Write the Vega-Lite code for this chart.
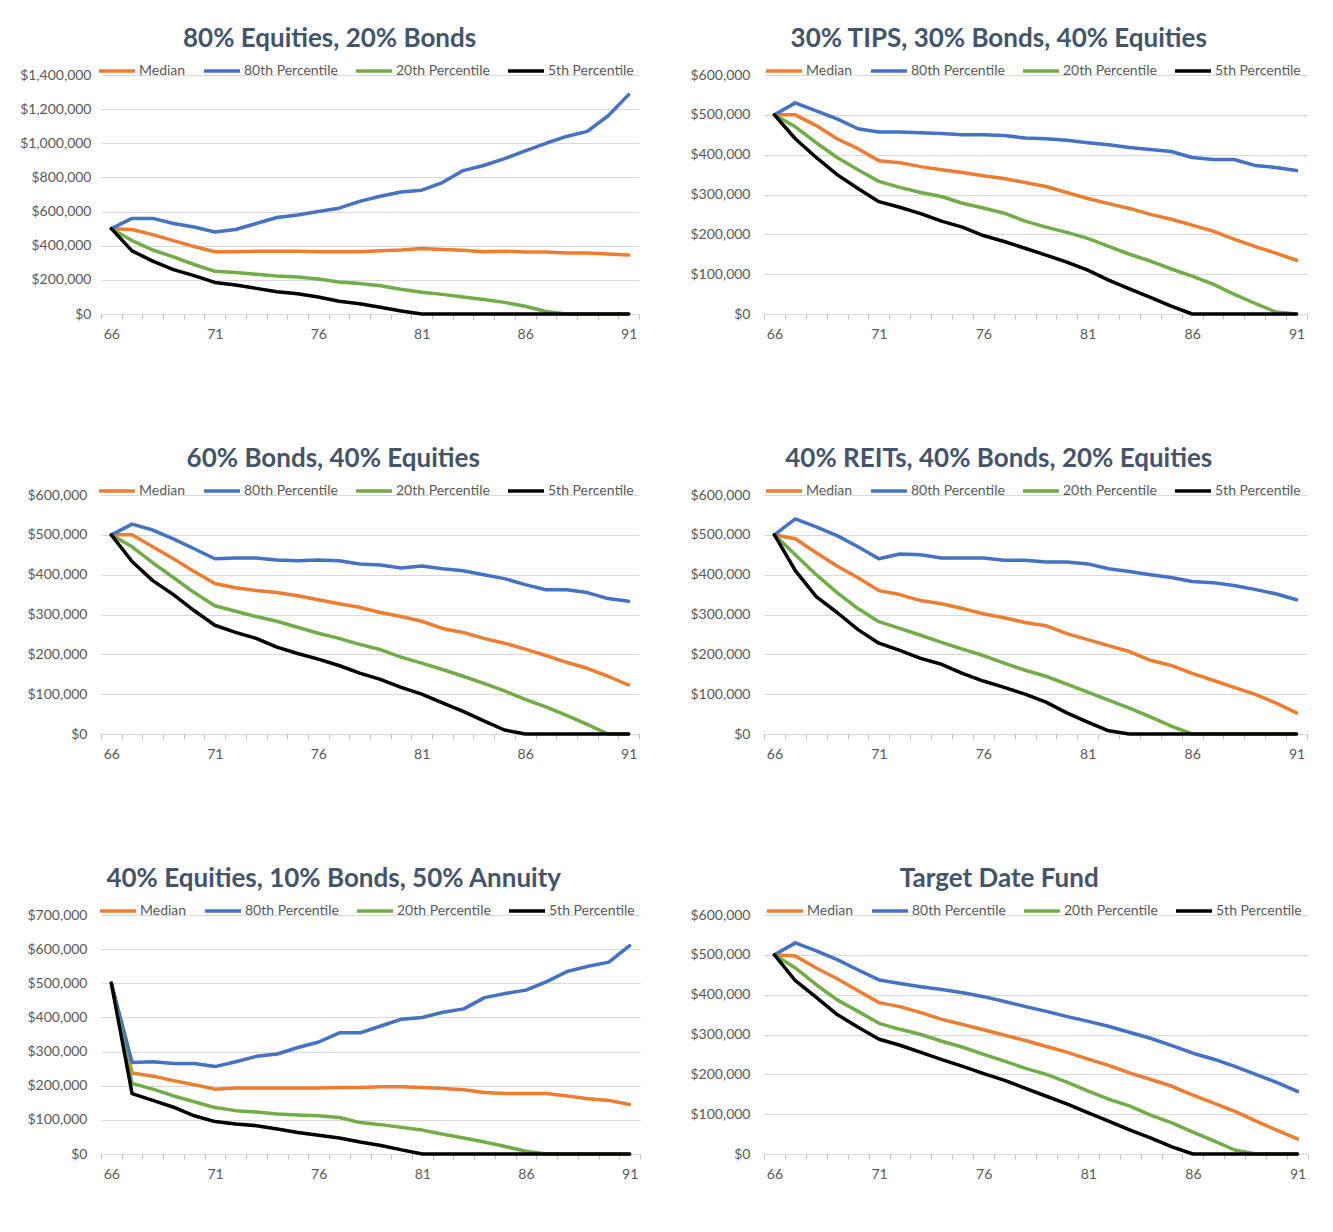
{
"$schema": "https://vega.github.io/schema/vega-lite/v6.json",
"padding": {"left": 19, "top": 26, "right": 5, "bottom": 5},
"background": "white",
"columns": 2,
"align": "none",
"spacing": {"row": 105, "column": 48},
"datasets": {
"p1": [
{"Age":66,"Median":500000,"80th Percentile":500000,"20th Percentile":500000,"5th Percentile":500000},
{"Age":67,"Median":495000,"80th Percentile":560000,"20th Percentile":430000,"5th Percentile":370000},
{"Age":68,"Median":465000,"80th Percentile":560000,"20th Percentile":375000,"5th Percentile":310000},
{"Age":69,"Median":430000,"80th Percentile":530000,"20th Percentile":335000,"5th Percentile":260000},
{"Age":70,"Median":395000,"80th Percentile":510000,"20th Percentile":290000,"5th Percentile":225000},
{"Age":71,"Median":365000,"80th Percentile":480000,"20th Percentile":250000,"5th Percentile":185000},
{"Age":72,"Median":365000,"80th Percentile":495000,"20th Percentile":243000,"5th Percentile":170000},
{"Age":73,"Median":368000,"80th Percentile":530000,"20th Percentile":233000,"5th Percentile":150000},
{"Age":74,"Median":368000,"80th Percentile":565000,"20th Percentile":222000,"5th Percentile":130000},
{"Age":75,"Median":368000,"80th Percentile":580000,"20th Percentile":217000,"5th Percentile":118000},
{"Age":76,"Median":365000,"80th Percentile":600000,"20th Percentile":205000,"5th Percentile":100000},
{"Age":77,"Median":365000,"80th Percentile":620000,"20th Percentile":188000,"5th Percentile":75000},
{"Age":78,"Median":365000,"80th Percentile":660000,"20th Percentile":178000,"5th Percentile":60000},
{"Age":79,"Median":370000,"80th Percentile":690000,"20th Percentile":165000,"5th Percentile":40000},
{"Age":80,"Median":375000,"80th Percentile":715000,"20th Percentile":145000,"5th Percentile":18000},
{"Age":81,"Median":383000,"80th Percentile":725000,"20th Percentile":128000,"5th Percentile":0},
{"Age":82,"Median":378000,"80th Percentile":770000,"20th Percentile":115000,"5th Percentile":0},
{"Age":83,"Median":373000,"80th Percentile":840000,"20th Percentile":100000,"5th Percentile":0},
{"Age":84,"Median":365000,"80th Percentile":870000,"20th Percentile":85000,"5th Percentile":0},
{"Age":85,"Median":368000,"80th Percentile":910000,"20th Percentile":68000,"5th Percentile":0},
{"Age":86,"Median":363000,"80th Percentile":955000,"20th Percentile":45000,"5th Percentile":0},
{"Age":87,"Median":363000,"80th Percentile":1000000,"20th Percentile":15000,"5th Percentile":0},
{"Age":88,"Median":358000,"80th Percentile":1040000,"20th Percentile":0,"5th Percentile":0},
{"Age":89,"Median":358000,"80th Percentile":1070000,"20th Percentile":0,"5th Percentile":0},
{"Age":90,"Median":352000,"80th Percentile":1160000,"20th Percentile":0,"5th Percentile":0},
{"Age":91,"Median":345000,"80th Percentile":1285000,"20th Percentile":0,"5th Percentile":0}
],
"p2": [
{"Age":66,"Median":500000,"80th Percentile":500000,"20th Percentile":500000,"5th Percentile":500000},
{"Age":67,"Median":500000,"80th Percentile":530000,"20th Percentile":470000,"5th Percentile":440000},
{"Age":68,"Median":473000,"80th Percentile":510000,"20th Percentile":430000,"5th Percentile":393000},
{"Age":69,"Median":440000,"80th Percentile":490000,"20th Percentile":393000,"5th Percentile":350000},
{"Age":70,"Median":415000,"80th Percentile":465000,"20th Percentile":362000,"5th Percentile":315000},
{"Age":71,"Median":385000,"80th Percentile":457000,"20th Percentile":333000,"5th Percentile":282000},
{"Age":72,"Median":380000,"80th Percentile":457000,"20th Percentile":318000,"5th Percentile":268000},
{"Age":73,"Median":370000,"80th Percentile":455000,"20th Percentile":305000,"5th Percentile":252000},
{"Age":74,"Median":362000,"80th Percentile":453000,"20th Percentile":295000,"5th Percentile":233000},
{"Age":75,"Median":355000,"80th Percentile":450000,"20th Percentile":278000,"5th Percentile":218000},
{"Age":76,"Median":347000,"80th Percentile":450000,"20th Percentile":266000,"5th Percentile":197000},
{"Age":77,"Median":340000,"80th Percentile":448000,"20th Percentile":253000,"5th Percentile":182000},
{"Age":78,"Median":330000,"80th Percentile":442000,"20th Percentile":233000,"5th Percentile":165000},
{"Age":79,"Median":320000,"80th Percentile":440000,"20th Percentile":218000,"5th Percentile":148000},
{"Age":80,"Median":305000,"80th Percentile":436000,"20th Percentile":205000,"5th Percentile":130000},
{"Age":81,"Median":290000,"80th Percentile":430000,"20th Percentile":190000,"5th Percentile":110000},
{"Age":82,"Median":277000,"80th Percentile":425000,"20th Percentile":170000,"5th Percentile":85000},
{"Age":83,"Median":265000,"80th Percentile":418000,"20th Percentile":150000,"5th Percentile":63000},
{"Age":84,"Median":250000,"80th Percentile":413000,"20th Percentile":133000,"5th Percentile":42000},
{"Age":85,"Median":238000,"80th Percentile":408000,"20th Percentile":113000,"5th Percentile":20000},
{"Age":86,"Median":223000,"80th Percentile":393000,"20th Percentile":95000,"5th Percentile":0},
{"Age":87,"Median":208000,"80th Percentile":388000,"20th Percentile":75000,"5th Percentile":0},
{"Age":88,"Median":188000,"80th Percentile":388000,"20th Percentile":50000,"5th Percentile":0},
{"Age":89,"Median":170000,"80th Percentile":373000,"20th Percentile":27000,"5th Percentile":0},
{"Age":90,"Median":153000,"80th Percentile":368000,"20th Percentile":5000,"5th Percentile":0},
{"Age":91,"Median":135000,"80th Percentile":360000,"20th Percentile":0,"5th Percentile":0}
],
"p3": [
{"Age":66,"Median":500000,"80th Percentile":500000,"20th Percentile":500000,"5th Percentile":500000},
{"Age":67,"Median":500000,"80th Percentile":527000,"20th Percentile":470000,"5th Percentile":433000},
{"Age":68,"Median":470000,"80th Percentile":512000,"20th Percentile":430000,"5th Percentile":385000},
{"Age":69,"Median":440000,"80th Percentile":490000,"20th Percentile":393000,"5th Percentile":350000},
{"Age":70,"Median":408000,"80th Percentile":465000,"20th Percentile":355000,"5th Percentile":310000},
{"Age":71,"Median":378000,"80th Percentile":440000,"20th Percentile":322000,"5th Percentile":273000},
{"Age":72,"Median":367000,"80th Percentile":442000,"20th Percentile":308000,"5th Percentile":255000},
{"Age":73,"Median":360000,"80th Percentile":442000,"20th Percentile":295000,"5th Percentile":240000},
{"Age":74,"Median":355000,"80th Percentile":437000,"20th Percentile":283000,"5th Percentile":218000},
{"Age":75,"Median":347000,"80th Percentile":435000,"20th Percentile":268000,"5th Percentile":202000},
{"Age":76,"Median":337000,"80th Percentile":437000,"20th Percentile":253000,"5th Percentile":188000},
{"Age":77,"Median":327000,"80th Percentile":435000,"20th Percentile":240000,"5th Percentile":172000},
{"Age":78,"Median":318000,"80th Percentile":427000,"20th Percentile":225000,"5th Percentile":153000},
{"Age":79,"Median":305000,"80th Percentile":424000,"20th Percentile":212000,"5th Percentile":137000},
{"Age":80,"Median":295000,"80th Percentile":417000,"20th Percentile":193000,"5th Percentile":117000},
{"Age":81,"Median":283000,"80th Percentile":422000,"20th Percentile":178000,"5th Percentile":100000},
{"Age":82,"Median":265000,"80th Percentile":415000,"20th Percentile":162000,"5th Percentile":78000},
{"Age":83,"Median":255000,"80th Percentile":410000,"20th Percentile":145000,"5th Percentile":57000},
{"Age":84,"Median":240000,"80th Percentile":400000,"20th Percentile":127000,"5th Percentile":33000},
{"Age":85,"Median":228000,"80th Percentile":390000,"20th Percentile":108000,"5th Percentile":10000},
{"Age":86,"Median":213000,"80th Percentile":375000,"20th Percentile":87000,"5th Percentile":0},
{"Age":87,"Median":197000,"80th Percentile":362000,"20th Percentile":68000,"5th Percentile":0},
{"Age":88,"Median":180000,"80th Percentile":362000,"20th Percentile":47000,"5th Percentile":0},
{"Age":89,"Median":165000,"80th Percentile":355000,"20th Percentile":24000,"5th Percentile":0},
{"Age":90,"Median":145000,"80th Percentile":340000,"20th Percentile":0,"5th Percentile":0},
{"Age":91,"Median":123000,"80th Percentile":333000,"20th Percentile":0,"5th Percentile":0}
],
"p4": [
{"Age":66,"Median":500000,"80th Percentile":500000,"20th Percentile":500000,"5th Percentile":500000},
{"Age":67,"Median":490000,"80th Percentile":540000,"20th Percentile":450000,"5th Percentile":410000},
{"Age":68,"Median":455000,"80th Percentile":520000,"20th Percentile":400000,"5th Percentile":345000},
{"Age":69,"Median":422000,"80th Percentile":498000,"20th Percentile":355000,"5th Percentile":305000},
{"Age":70,"Median":392000,"80th Percentile":470000,"20th Percentile":315000,"5th Percentile":262000},
{"Age":71,"Median":360000,"80th Percentile":440000,"20th Percentile":282000,"5th Percentile":228000},
{"Age":72,"Median":350000,"80th Percentile":452000,"20th Percentile":265000,"5th Percentile":210000},
{"Age":73,"Median":335000,"80th Percentile":450000,"20th Percentile":248000,"5th Percentile":190000},
{"Age":74,"Median":327000,"80th Percentile":442000,"20th Percentile":230000,"5th Percentile":175000},
{"Age":75,"Median":315000,"80th Percentile":442000,"20th Percentile":213000,"5th Percentile":152000},
{"Age":76,"Median":302000,"80th Percentile":442000,"20th Percentile":197000,"5th Percentile":133000},
{"Age":77,"Median":292000,"80th Percentile":436000,"20th Percentile":178000,"5th Percentile":117000},
{"Age":78,"Median":280000,"80th Percentile":436000,"20th Percentile":160000,"5th Percentile":100000},
{"Age":79,"Median":272000,"80th Percentile":432000,"20th Percentile":145000,"5th Percentile":80000},
{"Age":80,"Median":252000,"80th Percentile":432000,"20th Percentile":125000,"5th Percentile":53000},
{"Age":81,"Median":237000,"80th Percentile":427000,"20th Percentile":105000,"5th Percentile":30000},
{"Age":82,"Median":222000,"80th Percentile":415000,"20th Percentile":85000,"5th Percentile":8000},
{"Age":83,"Median":207000,"80th Percentile":408000,"20th Percentile":65000,"5th Percentile":0},
{"Age":84,"Median":185000,"80th Percentile":400000,"20th Percentile":43000,"5th Percentile":0},
{"Age":85,"Median":172000,"80th Percentile":393000,"20th Percentile":20000,"5th Percentile":0},
{"Age":86,"Median":152000,"80th Percentile":383000,"20th Percentile":0,"5th Percentile":0},
{"Age":87,"Median":135000,"80th Percentile":380000,"20th Percentile":0,"5th Percentile":0},
{"Age":88,"Median":117000,"80th Percentile":373000,"20th Percentile":0,"5th Percentile":0},
{"Age":89,"Median":100000,"80th Percentile":363000,"20th Percentile":0,"5th Percentile":0},
{"Age":90,"Median":78000,"80th Percentile":352000,"20th Percentile":0,"5th Percentile":0},
{"Age":91,"Median":53000,"80th Percentile":337000,"20th Percentile":0,"5th Percentile":0}
],
"p5": [
{"Age":66,"Median":500000,"80th Percentile":500000,"20th Percentile":500000,"5th Percentile":500000},
{"Age":67,"Median":237000,"80th Percentile":268000,"20th Percentile":207000,"5th Percentile":177000},
{"Age":68,"Median":228000,"80th Percentile":270000,"20th Percentile":190000,"5th Percentile":157000},
{"Age":69,"Median":215000,"80th Percentile":265000,"20th Percentile":170000,"5th Percentile":137000},
{"Age":70,"Median":203000,"80th Percentile":265000,"20th Percentile":153000,"5th Percentile":112000},
{"Age":71,"Median":190000,"80th Percentile":256000,"20th Percentile":136000,"5th Percentile":95000},
{"Age":72,"Median":193000,"80th Percentile":270000,"20th Percentile":127000,"5th Percentile":88000},
{"Age":73,"Median":193000,"80th Percentile":286000,"20th Percentile":123000,"5th Percentile":83000},
{"Age":74,"Median":193000,"80th Percentile":293000,"20th Percentile":117000,"5th Percentile":73000},
{"Age":75,"Median":193000,"80th Percentile":312000,"20th Percentile":114000,"5th Percentile":63000},
{"Age":76,"Median":193000,"80th Percentile":328000,"20th Percentile":112000,"5th Percentile":55000},
{"Age":77,"Median":195000,"80th Percentile":355000,"20th Percentile":107000,"5th Percentile":47000},
{"Age":78,"Median":195000,"80th Percentile":355000,"20th Percentile":92000,"5th Percentile":35000},
{"Age":79,"Median":197000,"80th Percentile":375000,"20th Percentile":86000,"5th Percentile":25000},
{"Age":80,"Median":197000,"80th Percentile":395000,"20th Percentile":78000,"5th Percentile":12000},
{"Age":81,"Median":195000,"80th Percentile":400000,"20th Percentile":70000,"5th Percentile":0},
{"Age":82,"Median":192000,"80th Percentile":415000,"20th Percentile":58000,"5th Percentile":0},
{"Age":83,"Median":188000,"80th Percentile":425000,"20th Percentile":47000,"5th Percentile":0},
{"Age":84,"Median":180000,"80th Percentile":458000,"20th Percentile":35000,"5th Percentile":0},
{"Age":85,"Median":177000,"80th Percentile":470000,"20th Percentile":22000,"5th Percentile":0},
{"Age":86,"Median":177000,"80th Percentile":480000,"20th Percentile":8000,"5th Percentile":0},
{"Age":87,"Median":177000,"80th Percentile":505000,"20th Percentile":0,"5th Percentile":0},
{"Age":88,"Median":170000,"80th Percentile":535000,"20th Percentile":0,"5th Percentile":0},
{"Age":89,"Median":162000,"80th Percentile":550000,"20th Percentile":0,"5th Percentile":0},
{"Age":90,"Median":157000,"80th Percentile":562000,"20th Percentile":0,"5th Percentile":0},
{"Age":91,"Median":145000,"80th Percentile":610000,"20th Percentile":0,"5th Percentile":0}
],
"p6": [
{"Age":66,"Median":500000,"80th Percentile":500000,"20th Percentile":500000,"5th Percentile":500000},
{"Age":67,"Median":497000,"80th Percentile":530000,"20th Percentile":467000,"5th Percentile":435000},
{"Age":68,"Median":467000,"80th Percentile":510000,"20th Percentile":425000,"5th Percentile":393000},
{"Age":69,"Median":440000,"80th Percentile":488000,"20th Percentile":387000,"5th Percentile":350000},
{"Age":70,"Median":410000,"80th Percentile":462000,"20th Percentile":358000,"5th Percentile":318000},
{"Age":71,"Median":380000,"80th Percentile":437000,"20th Percentile":328000,"5th Percentile":288000},
{"Age":72,"Median":370000,"80th Percentile":428000,"20th Percentile":313000,"5th Percentile":273000},
{"Age":73,"Median":355000,"80th Percentile":420000,"20th Percentile":300000,"5th Percentile":255000},
{"Age":74,"Median":338000,"80th Percentile":413000,"20th Percentile":283000,"5th Percentile":237000},
{"Age":75,"Median":325000,"80th Percentile":405000,"20th Percentile":268000,"5th Percentile":220000},
{"Age":76,"Median":312000,"80th Percentile":395000,"20th Percentile":250000,"5th Percentile":202000},
{"Age":77,"Median":298000,"80th Percentile":383000,"20th Percentile":233000,"5th Percentile":185000},
{"Age":78,"Median":285000,"80th Percentile":370000,"20th Percentile":215000,"5th Percentile":165000},
{"Age":79,"Median":270000,"80th Percentile":358000,"20th Percentile":200000,"5th Percentile":145000},
{"Age":80,"Median":255000,"80th Percentile":345000,"20th Percentile":180000,"5th Percentile":125000},
{"Age":81,"Median":238000,"80th Percentile":333000,"20th Percentile":158000,"5th Percentile":103000},
{"Age":82,"Median":222000,"80th Percentile":320000,"20th Percentile":137000,"5th Percentile":82000},
{"Age":83,"Median":203000,"80th Percentile":305000,"20th Percentile":120000,"5th Percentile":60000},
{"Age":84,"Median":187000,"80th Percentile":290000,"20th Percentile":97000,"5th Percentile":40000},
{"Age":85,"Median":170000,"80th Percentile":272000,"20th Percentile":78000,"5th Percentile":18000},
{"Age":86,"Median":148000,"80th Percentile":253000,"20th Percentile":55000,"5th Percentile":0},
{"Age":87,"Median":128000,"80th Percentile":238000,"20th Percentile":33000,"5th Percentile":0},
{"Age":88,"Median":107000,"80th Percentile":220000,"20th Percentile":10000,"5th Percentile":0},
{"Age":89,"Median":83000,"80th Percentile":200000,"20th Percentile":0,"5th Percentile":0},
{"Age":90,"Median":60000,"80th Percentile":180000,"20th Percentile":0,"5th Percentile":0},
{"Age":91,"Median":38000,"80th Percentile":157000,"20th Percentile":0,"5th Percentile":0}
]
},
"concat": [
{"width": 538, "height": 239, "title": "80% Equities, 20% Bonds", "data": {"name": "p1"},
 "transform": [{"fold": ["Median","80th Percentile","20th Percentile","5th Percentile"], "as": ["Series","Value"]}],
 "mark": {"type": "line", "strokeWidth": 3.5, "strokeJoin": "round", "strokeCap": "round"},
 "encoding": {
  "x": {"field": "Age", "type": "quantitative", "title": null, "scale": {"domain": [65.5, 91.5], "nice": false, "zero": false},
   "axis": {"values": [65.5,66,66.5,67.5,68.5,69.5,70.5,71,71.5,72.5,73.5,74.5,75.5,76,76.5,77.5,78.5,79.5,80.5,81,81.5,82.5,83.5,84.5,85.5,86,86.5,87.5,88.5,89.5,90.5,91,91.5],
    "labelExpr": "datum.value % 5 == 1 ? '' + datum.value : ''", "tickOpacity": {"condition": {"test": "datum.value % 1 != 0", "value": 1}, "value": 0}}},
  "y": {"field": "Value", "type": "quantitative", "title": null, "scale": {"domain": [0, 1400000], "nice": false},
   "axis": {"values": [0,200000,400000,600000,800000,1000000,1200000,1400000], "format": "$,.0f", "labelPadding": 10}},
  "color": {"field": "Series", "type": "nominal", "scale": {"domain": ["Median","80th Percentile","20th Percentile","5th Percentile"], "range": ["#ED7D31","#4472C4","#70AD47","#000000"]},
   "legend": {"title": null, "orient": "none", "legendX": -4, "legendY": -24}}
 }},
{"width": 543, "height": 239, "title": "30% TIPS, 30% Bonds, 40% Equities", "data": {"name": "p2"},
 "transform": [{"fold": ["Median","80th Percentile","20th Percentile","5th Percentile"], "as": ["Series","Value"]}],
 "mark": {"type": "line", "strokeWidth": 3.5, "strokeJoin": "round", "strokeCap": "round"},
 "encoding": {
  "x": {"field": "Age", "type": "quantitative", "title": null, "scale": {"domain": [65.5, 91.5], "nice": false, "zero": false},
   "axis": {"values": [65.5,66,66.5,67.5,68.5,69.5,70.5,71,71.5,72.5,73.5,74.5,75.5,76,76.5,77.5,78.5,79.5,80.5,81,81.5,82.5,83.5,84.5,85.5,86,86.5,87.5,88.5,89.5,90.5,91,91.5],
    "labelExpr": "datum.value % 5 == 1 ? '' + datum.value : ''", "tickOpacity": {"condition": {"test": "datum.value % 1 != 0", "value": 1}, "value": 0}}},
  "y": {"field": "Value", "type": "quantitative", "title": null, "scale": {"domain": [0, 600000], "nice": false},
   "axis": {"values": [0,100000,200000,300000,400000,500000,600000], "format": "$,.0f"}},
  "color": {"field": "Series", "type": "nominal", "scale": {"domain": ["Median","80th Percentile","20th Percentile","5th Percentile"], "range": ["#ED7D31","#4472C4","#70AD47","#000000"]},
   "legend": {"title": null, "orient": "none", "legendX": 0, "legendY": -24}}
 }},
{"width": 538, "height": 239, "title": "60% Bonds, 40% Equities", "data": {"name": "p3"},
 "transform": [{"fold": ["Median","80th Percentile","20th Percentile","5th Percentile"], "as": ["Series","Value"]}],
 "mark": {"type": "line", "strokeWidth": 3.5, "strokeJoin": "round", "strokeCap": "round"},
 "encoding": {
  "x": {"field": "Age", "type": "quantitative", "title": null, "scale": {"domain": [65.5, 91.5], "nice": false, "zero": false},
   "axis": {"values": [65.5,66,66.5,67.5,68.5,69.5,70.5,71,71.5,72.5,73.5,74.5,75.5,76,76.5,77.5,78.5,79.5,80.5,81,81.5,82.5,83.5,84.5,85.5,86,86.5,87.5,88.5,89.5,90.5,91,91.5],
    "labelExpr": "datum.value % 5 == 1 ? '' + datum.value : ''", "tickOpacity": {"condition": {"test": "datum.value % 1 != 0", "value": 1}, "value": 0}}},
  "y": {"field": "Value", "type": "quantitative", "title": null, "scale": {"domain": [0, 600000], "nice": false},
   "axis": {"values": [0,100000,200000,300000,400000,500000,600000], "format": "$,.0f"}},
  "color": {"field": "Series", "type": "nominal", "scale": {"domain": ["Median","80th Percentile","20th Percentile","5th Percentile"], "range": ["#ED7D31","#4472C4","#70AD47","#000000"]},
   "legend": {"title": null, "orient": "none", "legendX": -4, "legendY": -24}}
 }},
{"width": 543, "height": 239, "title": "40% REITs, 40% Bonds, 20% Equities", "data": {"name": "p4"},
 "transform": [{"fold": ["Median","80th Percentile","20th Percentile","5th Percentile"], "as": ["Series","Value"]}],
 "mark": {"type": "line", "strokeWidth": 3.5, "strokeJoin": "round", "strokeCap": "round"},
 "encoding": {
  "x": {"field": "Age", "type": "quantitative", "title": null, "scale": {"domain": [65.5, 91.5], "nice": false, "zero": false},
   "axis": {"values": [65.5,66,66.5,67.5,68.5,69.5,70.5,71,71.5,72.5,73.5,74.5,75.5,76,76.5,77.5,78.5,79.5,80.5,81,81.5,82.5,83.5,84.5,85.5,86,86.5,87.5,88.5,89.5,90.5,91,91.5],
    "labelExpr": "datum.value % 5 == 1 ? '' + datum.value : ''", "tickOpacity": {"condition": {"test": "datum.value % 1 != 0", "value": 1}, "value": 0}}},
  "y": {"field": "Value", "type": "quantitative", "title": null, "scale": {"domain": [0, 600000], "nice": false},
   "axis": {"values": [0,100000,200000,300000,400000,500000,600000], "format": "$,.0f"}},
  "color": {"field": "Series", "type": "nominal", "scale": {"domain": ["Median","80th Percentile","20th Percentile","5th Percentile"], "range": ["#ED7D31","#4472C4","#70AD47","#000000"]},
   "legend": {"title": null, "orient": "none", "legendX": 0, "legendY": -24}}
 }},
{"width": 539, "height": 239, "title": "40% Equities, 10% Bonds, 50% Annuity", "data": {"name": "p5"},
 "transform": [{"fold": ["Median","80th Percentile","20th Percentile","5th Percentile"], "as": ["Series","Value"]}],
 "mark": {"type": "line", "strokeWidth": 3.5, "strokeJoin": "round", "strokeCap": "round"},
 "encoding": {
  "x": {"field": "Age", "type": "quantitative", "title": null, "scale": {"domain": [65.5, 91.5], "nice": false, "zero": false},
   "axis": {"values": [65.5,66,66.5,67.5,68.5,69.5,70.5,71,71.5,72.5,73.5,74.5,75.5,76,76.5,77.5,78.5,79.5,80.5,81,81.5,82.5,83.5,84.5,85.5,86,86.5,87.5,88.5,89.5,90.5,91,91.5],
    "labelExpr": "datum.value % 5 == 1 ? '' + datum.value : ''", "tickOpacity": {"condition": {"test": "datum.value % 1 != 0", "value": 1}, "value": 0}}},
  "y": {"field": "Value", "type": "quantitative", "title": null, "scale": {"domain": [0, 700000], "nice": false},
   "axis": {"values": [0,100000,200000,300000,400000,500000,600000,700000], "format": "$,.0f"}},
  "color": {"field": "Series", "type": "nominal", "scale": {"domain": ["Median","80th Percentile","20th Percentile","5th Percentile"], "range": ["#ED7D31","#4472C4","#70AD47","#000000"]},
   "legend": {"title": null, "orient": "none", "legendX": -3, "legendY": -24}}
 }},
{"width": 544, "height": 239, "title": "Target Date Fund", "data": {"name": "p6"},
 "transform": [{"fold": ["Median","80th Percentile","20th Percentile","5th Percentile"], "as": ["Series","Value"]}],
 "mark": {"type": "line", "strokeWidth": 3.5, "strokeJoin": "round", "strokeCap": "round"},
 "encoding": {
  "x": {"field": "Age", "type": "quantitative", "title": null, "scale": {"domain": [65.5, 91.5], "nice": false, "zero": false},
   "axis": {"values": [65.5,66,66.5,67.5,68.5,69.5,70.5,71,71.5,72.5,73.5,74.5,75.5,76,76.5,77.5,78.5,79.5,80.5,81,81.5,82.5,83.5,84.5,85.5,86,86.5,87.5,88.5,89.5,90.5,91,91.5],
    "labelExpr": "datum.value % 5 == 1 ? '' + datum.value : ''", "tickOpacity": {"condition": {"test": "datum.value % 1 != 0", "value": 1}, "value": 0}}},
  "y": {"field": "Value", "type": "quantitative", "title": null, "scale": {"domain": [0, 600000], "nice": false},
   "axis": {"values": [0,100000,200000,300000,400000,500000,600000], "format": "$,.0f"}},
  "color": {"field": "Series", "type": "nominal", "scale": {"domain": ["Median","80th Percentile","20th Percentile","5th Percentile"], "range": ["#ED7D31","#4472C4","#70AD47","#000000"]},
   "legend": {"title": null, "orient": "none", "legendX": 1, "legendY": -24}}
 }}
],
"resolve": {"scale": {"x": "independent", "y": "independent", "color": "independent"}, "legend": {"color": "independent"}, "axis": {"x": "independent", "y": "independent"}},
"config": {
 "view": {"stroke": null},
 "font": "Lato",
 "title": {"fontSize": 26, "fontWeight": "bold", "color": "#44546A", "anchor": "middle", "frame": "bounds", "offset": -1, "font": "Lato"},
 "axis": {"labelFont": "Lato", "labelFontSize": 14, "labelColor": "#595959", "gridColor": "#D9D9D9", "domainColor": "#D9D9D9", "tickColor": "#BFBFBF"},
 "axisY": {"domain": false, "ticks": false, "labelPadding": 14, "grid": true},
 "axisX": {"grid": false, "labelPadding": 8, "tickSize": 5, "labelFlush": false, "labelOverlap": false, "labelAngle": 0},
 "legend": {"direction": "horizontal", "symbolType": "stroke", "symbolSize": 1296, "symbolStrokeWidth": 3.5, "labelFont": "Lato", "labelFontSize": 14, "labelColor": "#595959", "labelOffset": 2, "columnPadding": 11}
}
}
